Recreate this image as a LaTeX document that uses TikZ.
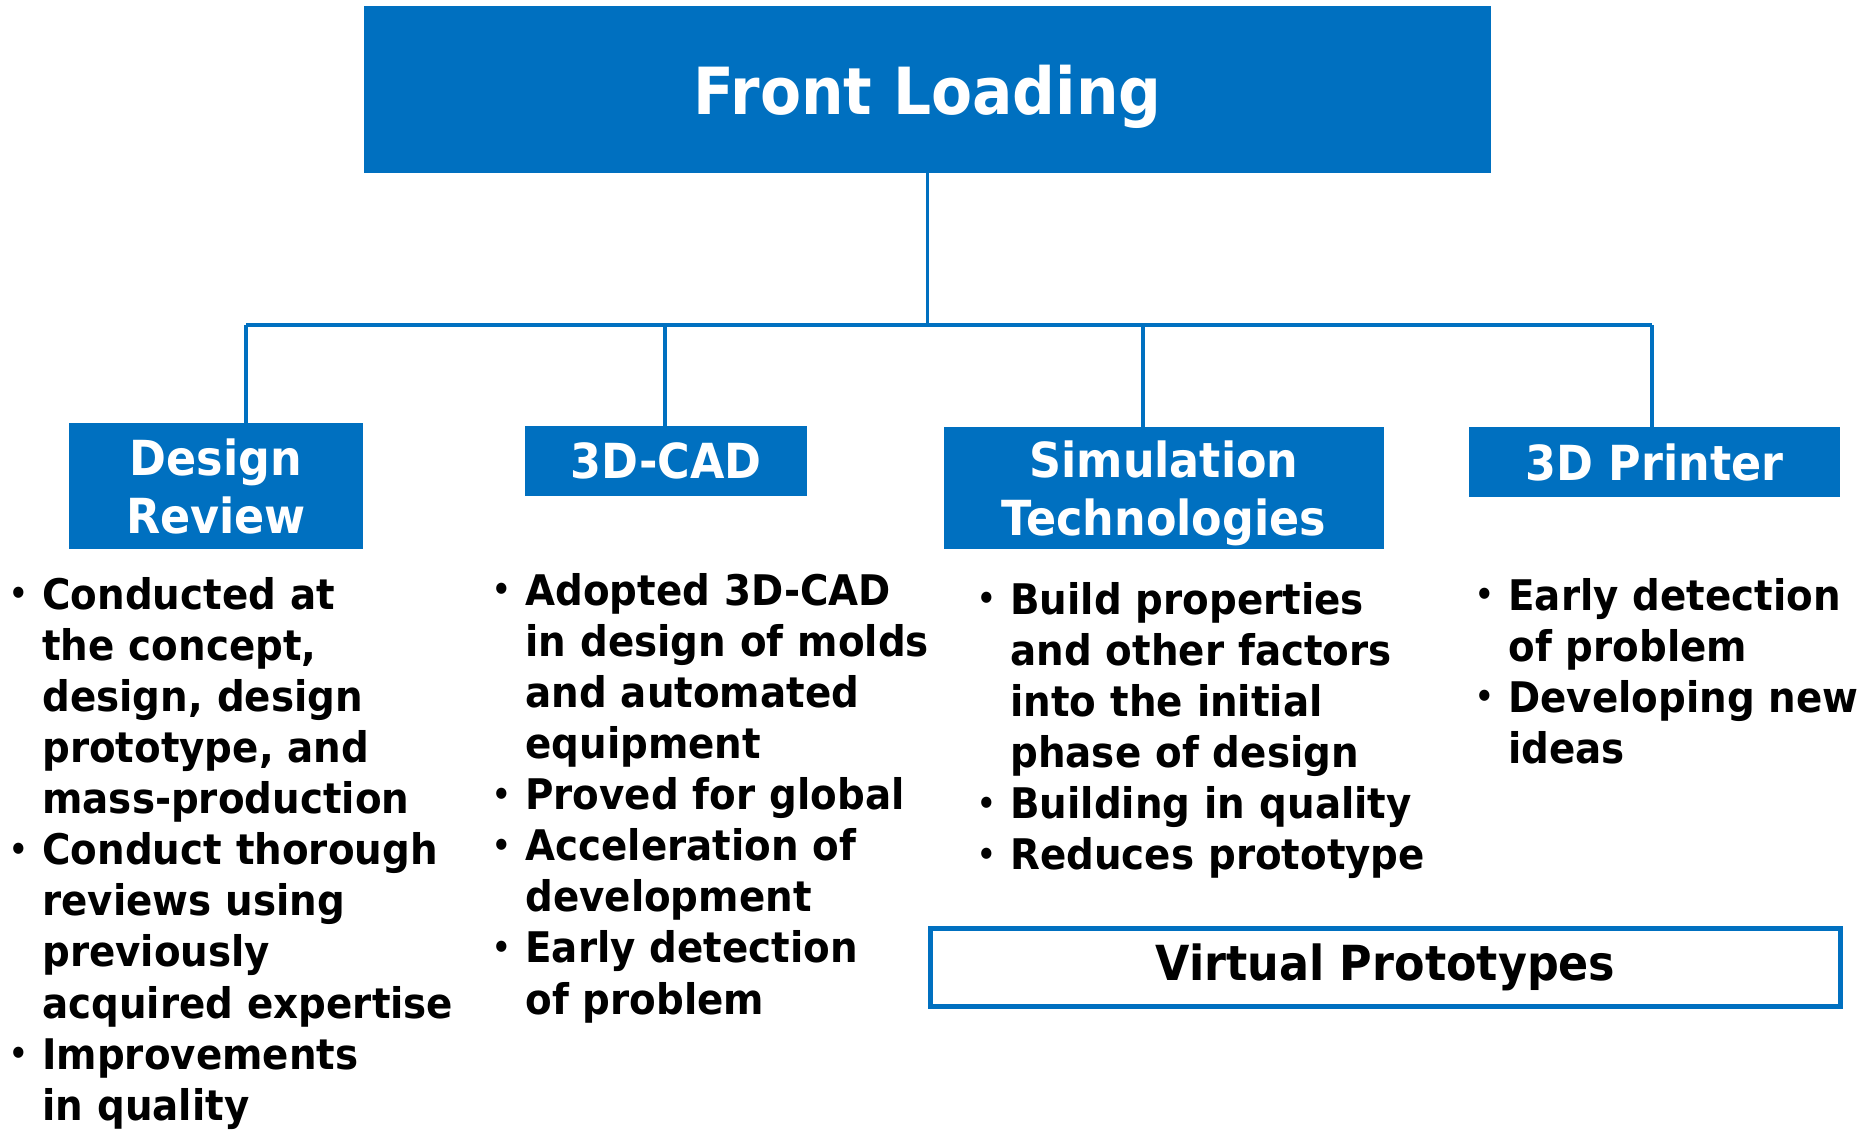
\documentclass[tikz,border=0pt]{standalone}
\usepackage{fontspec}
\setmainfont{DejaVu Sans}[FakeStretch=0.92]
\usepackage{tikz}

\definecolor{flblue}{HTML}{0070C0}
\newcommand{\itm}{\leavevmode\llap{\raisebox{0.09cm}{\fontsize{18}{18}\selectfont •}\hspace{0.29cm}}}

\begin{document}
\begin{tikzpicture}[x=0.02cm,y=-0.02cm,
    blue box/.style={fill=flblue,text=white,inner sep=0pt,align=center,text depth=0pt,
      font=\bfseries\fontsize{27.5}{32.9}\selectfont},
    conn/.style={draw=flblue,line width=1.8pt},
    items/.style={anchor=base west,inner sep=0pt,text width=9cm,align=left,
      execute at begin node=\setlength{\parindent}{0pt},
      font=\bfseries\fontsize{24}{29.1}\selectfont}]
  \useasboundingbox (0,0) rectangle (1872,1130);

  \node[blue box,minimum width=22.54cm,minimum height=3.34cm,
    font=\bfseries\fontsize{37}{44}\selectfont] (front_loading) at (927.5,89.5) {Front Loading};

  \node[blue box,minimum width=5.88cm,minimum height=2.52cm] (design_review) at (216,486) {Design\\Review};
  \node[blue box,minimum width=5.64cm,minimum height=1.4cm] (cad) at (666,461) {3D-CAD};
  \node[blue box,minimum width=8.8cm,minimum height=2.44cm] (simulation) at (1164,488) {Simulation\\Technologies};
  \node[blue box,minimum width=7.42cm,minimum height=1.4cm] (printer) at (1654.5,462) {3D Printer};

  % tree lines
  \coordinate (b_dr) at (246,325);
  \coordinate (b_cad) at (665,325);
  \coordinate (b_sim) at (1143,325);
  \coordinate (b_prn) at (1652,325);
  \path[conn]
    (front_loading.south) edge (front_loading.south |- b_dr)
    (b_dr) edge (b_prn)
    (b_dr) edge (b_dr |- design_review.north)
    (b_cad) edge (b_cad |- cad.north)
    (b_sim) edge (b_sim |- simulation.north)
    (b_prn) edge (b_prn |- printer.north);

  \node[items] (dr_items) at (42,609) {%
    \itm Conducted at\\ the concept,\\ design, design\\ prototype, and\\ mass-production\\
    \itm Conduct thorough\\ reviews using\\ previously\\ acquired expertise\\
    \itm Improvements\\ in quality};
  \node[items] (cad_items) at (525,605) {%
    \itm Adopted 3D-CAD\\ in design of molds\\ and automated\\ equipment\\
    \itm Proved for global\\
    \itm Acceleration of\\ development\\
    \itm Early detection\\ of problem};
  \node[items] (sim_items) at (1010,614) {%
    \itm Build properties\\ and other factors\\ into the initial\\ phase of design\\
    \itm Building in quality\\
    \itm Reduces prototype};
  \node[items] (prn_items) at (1508,610) {%
    \itm Early detection\\ of problem\\
    \itm Developing new\\ ideas};

  \node[draw=flblue,line width=2.8pt,minimum width=18.2cm,minimum height=1.56cm,inner sep=0pt,
    font=\bfseries\fontsize{27.5}{32.9}\selectfont] (virtual) at (1385.5,967.5) {Virtual Prototypes};
\end{tikzpicture}
\end{document}
